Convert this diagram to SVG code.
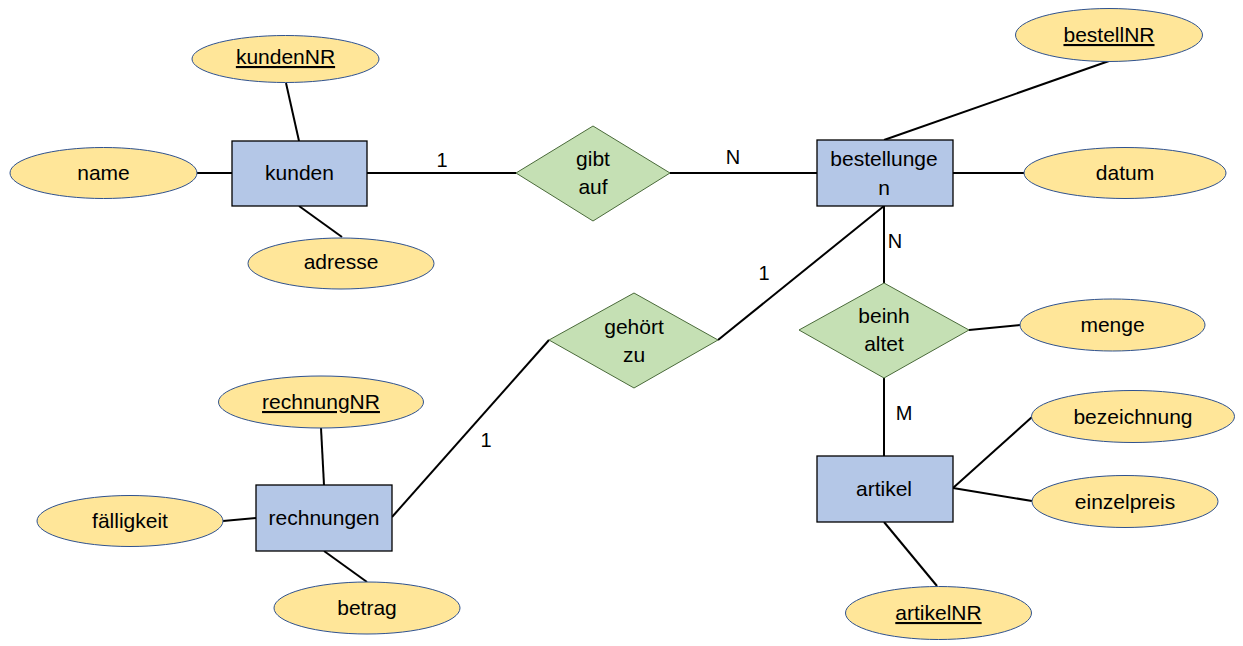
<svg xmlns="http://www.w3.org/2000/svg" width="1243" height="646" viewBox="0 0 1243 646">
<style>
.attr{fill:#FFE699;stroke:#2F528F;stroke-width:1}
.ent{fill:#B4C7E7;stroke:#000;stroke-width:1.3}
.rel{fill:#C5E0B4;stroke:#4a6a3a;stroke-width:1}
.c line{stroke:#000;stroke-width:2}
text{font-family:"Liberation Sans",Arial,sans-serif;font-size:21px;fill:#000;text-anchor:middle}
.key{text-decoration:underline}
.card{font-size:20px}
</style>
<rect width="1243" height="646" fill="#fff"/>
<g id="connectors" class="c">
<line x1="286" y1="83" x2="299" y2="141"/>
<line x1="197" y1="173" x2="232" y2="173"/>
<line x1="299" y1="206" x2="342" y2="237"/>
<line x1="367" y1="173" x2="516" y2="173"/>
<line x1="670" y1="173" x2="817" y2="173"/>
<line x1="1109" y1="61" x2="884" y2="140"/>
<line x1="953" y1="173" x2="1024" y2="173"/>
<line x1="884" y1="206" x2="884" y2="283"/>
<line x1="884" y1="206" x2="718" y2="340"/>
<line x1="549" y1="340" x2="392" y2="517"/>
<line x1="321" y1="428" x2="324" y2="485"/>
<line x1="223" y1="521" x2="256" y2="518"/>
<line x1="324" y1="551" x2="367" y2="582"/>
<line x1="969" y1="330" x2="1020" y2="325"/>
<line x1="884" y1="378" x2="884" y2="456"/>
<line x1="953" y1="488" x2="1032" y2="417"/>
<line x1="953" y1="488" x2="1032" y2="501"/>
<line x1="884" y1="522" x2="937" y2="586"/>
<text class="card" x="442" y="167">1</text>
<text class="card" x="733" y="164">N</text>
<text class="card" x="895" y="248">N</text>
<text class="card" x="764" y="280">1</text>
<text class="card" x="486" y="447">1</text>
<text class="card" x="904" y="420">M</text>
</g>
<g id="kunden"><rect class="ent" x="232" y="141" width="135" height="65"/><text x="299.5" y="180">kunden</text></g>
<g id="kundenNR"><ellipse class="attr" cx="285.5" cy="59" rx="93.5" ry="23.5"/><text class="key" x="285.5" y="64">kundenNR</text></g>
<g id="name"><ellipse class="attr" cx="103.5" cy="173" rx="93.5" ry="25.5"/><text x="103.5" y="180">name</text></g>
<g id="adresse"><ellipse class="attr" cx="341" cy="263.5" rx="93" ry="25.5"/><text x="341" y="269">adresse</text></g>
<g id="gibt_auf"><polygon class="rel" points="516,173 593,126 670,173 593,221"/><text x="593" y="166">gibt</text><text x="593" y="194">auf</text></g>
<g id="bestellungen"><rect class="ent" x="817" y="140" width="136" height="66"/><text x="884" y="166">bestellunge</text><text x="884" y="195">n</text></g>
<g id="bestellNR"><ellipse class="attr" cx="1109" cy="35" rx="93.5" ry="26.5"/><text class="key" x="1109" y="42">bestellNR</text></g>
<g id="datum"><ellipse class="attr" cx="1125" cy="173" rx="101" ry="25.5"/><text x="1125" y="180">datum</text></g>
<g id="gehoert_zu"><polygon class="rel" points="549,340 634,293 718,340 634,388"/><text x="634" y="334">gehört</text><text x="634" y="362">zu</text></g>
<g id="beinhaltet"><polygon class="rel" points="799,330 884,283 969,330 884,378"/><text x="884" y="323">beinh</text><text x="884" y="351">altet</text></g>
<g id="menge"><ellipse class="attr" cx="1112.5" cy="325" rx="92.5" ry="26"/><text x="1112.5" y="332">menge</text></g>
<g id="artikel"><rect class="ent" x="817" y="456" width="136" height="66"/><text x="884" y="496">artikel</text></g>
<g id="bezeichnung"><ellipse class="attr" cx="1133" cy="416.5" rx="101.5" ry="26"/><text x="1133" y="424">bezeichnung</text></g>
<g id="einzelpreis"><ellipse class="attr" cx="1125" cy="501.5" rx="93" ry="26"/><text x="1125" y="509">einzelpreis</text></g>
<g id="artikelNR"><ellipse class="attr" cx="938.5" cy="613" rx="93" ry="26.5"/><text class="key" x="938.5" y="620">artikelNR</text></g>
<g id="rechnungen"><rect class="ent" x="256" y="485" width="136" height="66"/><text x="324" y="525">rechnungen</text></g>
<g id="rechnungNR"><ellipse class="attr" cx="321" cy="402" rx="102.5" ry="26"/><text class="key" x="321" y="409">rechnungNR</text></g>
<g id="faelligkeit"><ellipse class="attr" cx="130" cy="521" rx="93" ry="25.5"/><text x="130" y="528">fälligkeit</text></g>
<g id="betrag"><ellipse class="attr" cx="367" cy="608" rx="93" ry="26"/><text x="367" y="615">betrag</text></g>
</svg>
